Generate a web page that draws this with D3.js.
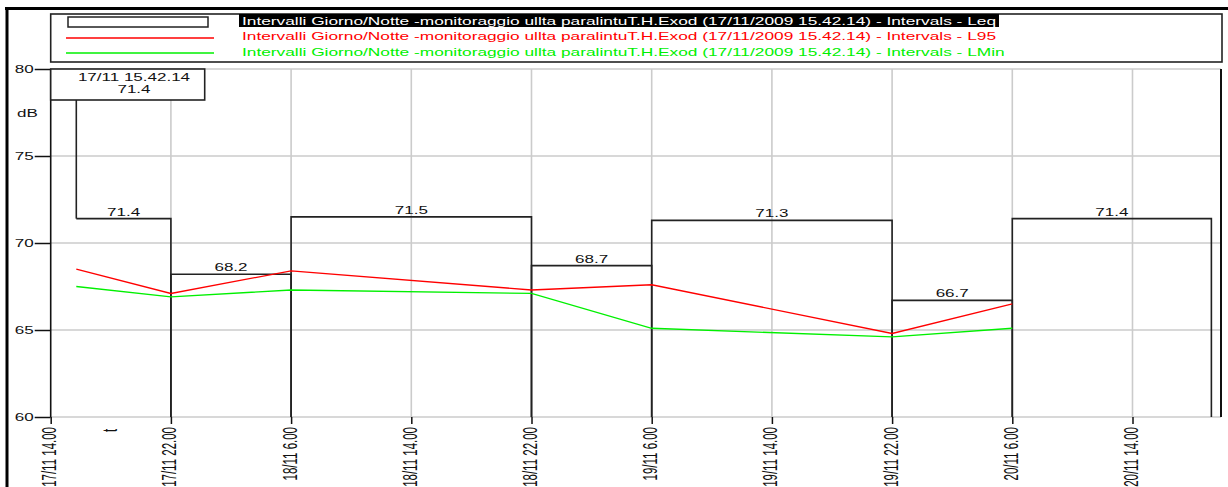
<!DOCTYPE html>
<html>
<head>
<meta charset="utf-8">
<script src="https://cdn.jsdelivr.net/npm/d3@7"></script>
<style>
  html, body { margin: 0; padding: 0; background: #fff; overflow: hidden; }
  svg text { font-family: "Liberation Sans", Arial, sans-serif; }
</style>
</head>
<body>
<svg id="chart" width="1228" height="487"></svg>
<script>
// ---- data -------------------------------------------------------------
const intervalStarts = [
  "2009-11-17 15:42:14", "2009-11-17 22:00:00", "2009-11-18 06:00:00",
  "2009-11-18 22:00:00", "2009-11-19 06:00:00", "2009-11-19 22:00:00",
  "2009-11-20 06:00:00"
];
const intervalEnd = "2009-11-20 19:15:00";
const leqValues  = [71.4, 68.2, 71.5, 68.7, 71.3, 66.7, 71.4];
const l95Values  = [68.5, 67.1, 68.4, 67.3, 67.6, 64.8, 66.5];
const lminValues = [67.5, 66.9, 67.3, 67.1, 65.1, 64.6, 65.1];
const xTickTimes = [
  "2009-11-17 14:00:00", "2009-11-17 22:00:00", "2009-11-18 06:00:00",
  "2009-11-18 14:00:00", "2009-11-18 22:00:00", "2009-11-19 06:00:00",
  "2009-11-19 14:00:00", "2009-11-19 22:00:00", "2009-11-20 06:00:00",
  "2009-11-20 14:00:00"
];
const yTickValues = [60, 65, 70, 75, 80];
const seriesNames = ["Leq", "L95", "LMin"];
const legendPrefix = "Intervalli Giorno/Notte -monitoraggio ullta paralintuT.H.Exod (17/11/2009 15.42.14) - Intervals - ";
const cursorTimeLabel = "17/11 15.42.14";
const yUnit = "dB";
const xUnit = "t";

// ---- layout -----------------------------------------------------------
const svg = d3.select("#chart");
const plot = { left: 50.7, right: 1221, top: 69, bottom: 417 };
const parse = d3.timeParse("%Y-%m-%d %H:%M:%S");
const starts = intervalStarts.map(parse);
const ends = starts.slice(1).concat([parse(intervalEnd)]);
const ticks = xTickTimes.map(parse);

const x = d3.scaleTime()
  .domain([ticks[0], ticks[ticks.length - 1]])
  .range([plot.left, 1132.5]);
const y = d3.scaleLinear().domain([60, 80]).range([plot.bottom, plot.top]);

const STRETCH = 1.7;   // wide, flattened lettering of the original plotter
function stretch(sel, k) {
  sel.each(function () {
    const len = this.getComputedTextLength();
    this.setAttribute("textLength", len * k);
    this.setAttribute("lengthAdjust", "spacingAndGlyphs");
  });
}

svg.append("rect").attr("width", 1228).attr("height", 487).attr("fill", "#fff");

// ---- grid -------------------------------------------------------------
const grid = svg.append("g").attr("stroke", "#cbcbcb").attr("stroke-width", 1.6);
grid.selectAll("line.v").data(ticks.slice(1)).join("line")
  .attr("x1", d => x(d)).attr("x2", d => x(d))
  .attr("y1", plot.top).attr("y2", plot.bottom);
grid.selectAll("line.h").data(yTickValues).join("line")
  .attr("x1", plot.left).attr("x2", plot.right)
  .attr("y1", d => y(d)).attr("y2", d => y(d));

// ---- axes -------------------------------------------------------------
const yAxis = svg.append("g")
  .attr("transform", `translate(${plot.left},0)`)
  .call(d3.axisLeft(y).tickValues(yTickValues).tickSize(16).tickPadding(1).tickFormat(d3.format("d")));
yAxis.select(".domain").remove();
yAxis.selectAll(".tick line").attr("stroke", "#111").attr("stroke-width", 1.5);
yAxis.selectAll(".tick text").attr("font-size", 10).attr("fill", "#111")
  .attr("font-family", "Liberation Sans, Arial, sans-serif").call(stretch, STRETCH);

svg.append("line").attr("x1", plot.left).attr("x2", plot.left)
  .attr("y1", plot.top).attr("y2", plot.bottom)
  .attr("stroke", "#111").attr("stroke-width", 1.6);
svg.append("line").attr("x1", plot.right).attr("x2", plot.right)
  .attr("y1", plot.top).attr("y2", plot.bottom)
  .attr("stroke", "#111").attr("stroke-width", 2);

const xAxis = svg.append("g")
  .attr("transform", `translate(0,${plot.bottom})`)
  .call(d3.axisBottom(x).tickValues(ticks).tickSize(7).tickFormat(d3.timeFormat("%d/%m %-H.%M")));
xAxis.select(".domain").remove();
xAxis.selectAll(".tick line").attr("stroke", "#111").attr("stroke-width", 1.5);
xAxis.selectAll(".tick text")
  .attr("x", null).attr("y", null)
  .attr("font-size", 11.5).attr("fill", "#111")
  .attr("font-family", "Liberation Sans, Arial, sans-serif")
  .attr("text-anchor", "end").attr("dy", "0.25em")
  .attr("transform", "translate(0,10) rotate(-90) scale(1,1.75)");

// axis unit labels
svg.append("text").attr("x", 17).attr("y", 117).attr("font-size", 10).attr("fill", "#111")
  .text(yUnit).call(stretch, STRETCH);
svg.append("text").attr("font-size", 11.5).attr("fill", "#111")
  .attr("transform", "translate(117,432) rotate(-90) scale(1,1.75)")
  .text(xUnit);

// ---- Leq interval boxes -------------------------------------------------
const intervals = starts.map((s, i) => ({ s, e: ends[i], leq: leqValues[i], l95: l95Values[i], lmin: lminValues[i] }));

svg.append("g").selectAll("path").data(intervals).join("path")
  .attr("d", (d, i) => {
    const p = d3.path();
    if (i === 0) p.moveTo(x(d.s), y(d.leq));
    else { p.moveTo(x(d.s), y(60)); p.lineTo(x(d.s), y(d.leq)); }
    p.lineTo(x(d.e), y(d.leq));
    p.lineTo(x(d.e), y(60));
    return p.toString();
  })
  .attr("fill", "none").attr("stroke", "#222").attr("stroke-width", 1.6);

svg.append("g").selectAll("text").data(intervals).join("text")
  .attr("x", d => (x(d.s) + x(d.e)) / 2)
  .attr("y", d => y(d.leq) - 3)
  .attr("text-anchor", "middle").attr("font-size", 10).attr("fill", "#111")
  .text(d => d3.format(".1f")(d.leq))
  .call(stretch, STRETCH);

// ---- L95 / LMin lines ---------------------------------------------------
const lineColors = { l95: "#ff0000", lmin: "#00f000" };
["l95", "lmin"].forEach(k => {
  svg.append("path").datum(intervals)
    .attr("d", d3.line().x(d => x(d.s)).y(d => y(d[k])))
    .attr("fill", "none").attr("stroke", lineColors[k]).attr("stroke-width", 1.3);
});

// ---- cursor readout -----------------------------------------------------
const first = intervals[0];
svg.append("line")
  .attr("x1", x(first.s)).attr("x2", x(first.s))
  .attr("y1", 100).attr("y2", y(first.leq))
  .attr("stroke", "#222").attr("stroke-width", 1.6);
svg.append("rect").attr("x", plot.left).attr("y", plot.top).attr("width", 154).attr("height", 31)
  .attr("fill", "#fff").attr("stroke", "#222").attr("stroke-width", 1.6);
svg.append("text").attr("x", 134).attr("y", 80.5).attr("text-anchor", "middle")
  .attr("font-size", 10).attr("fill", "#111").text(cursorTimeLabel).call(stretch, STRETCH);
svg.append("text").attr("x", 134).attr("y", 92.5).attr("text-anchor", "middle")
  .attr("font-size", 10).attr("fill", "#111").text(d3.format(".1f")(first.leq)).call(stretch, STRETCH);

// ---- legend -------------------------------------------------------------
const legend = svg.append("g");
legend.append("rect").attr("x", plot.left).attr("y", 14).attr("width", plot.right - plot.left + 1).attr("height", 48)
  .attr("fill", "#fff").attr("stroke", "#222").attr("stroke-width", 1.6);
legend.append("rect").attr("x", 239).attr("y", 14).attr("width", 760).attr("height", 13).attr("fill", "#000");
legend.append("rect").attr("x", 68).attr("y", 17).attr("width", 140).attr("height", 10)
  .attr("fill", "none").attr("stroke", "#222").attr("stroke-width", 1.5);
legend.append("line").attr("x1", 66).attr("x2", 214).attr("y1", 38).attr("y2", 38)
  .attr("stroke", lineColors.l95).attr("stroke-width", 1.3);
legend.append("line").attr("x1", 66).attr("x2", 214).attr("y1", 53).attr("y2", 53)
  .attr("stroke", lineColors.lmin).attr("stroke-width", 1.3);

const legendRows = legend.selectAll("text.row").data(seriesNames).join("text")
  .attr("class", "row")
  .attr("x", 242).attr("y", (d, i) => [25, 39.5, 56][i])
  .attr("font-size", 11)
  .attr("fill", (d, i) => ["#fff", lineColors.l95, lineColors.lmin][i])
  .text(d => legendPrefix + d);
const baseLen = legendRows.node().getComputedTextLength();
const legendK = (996 - 242) / baseLen;
legendRows.call(stretch, legendK);

// ---- outer frame --------------------------------------------------------
svg.append("line").attr("x1", 5).attr("x2", 1228).attr("y1", 8.5).attr("y2", 8.5)
  .attr("stroke", "#000").attr("stroke-width", 3);
svg.append("line").attr("x1", 7).attr("x2", 7).attr("y1", 7).attr("y2", 487)
  .attr("stroke", "#000").attr("stroke-width", 3);
</script>
</body>
</html>
